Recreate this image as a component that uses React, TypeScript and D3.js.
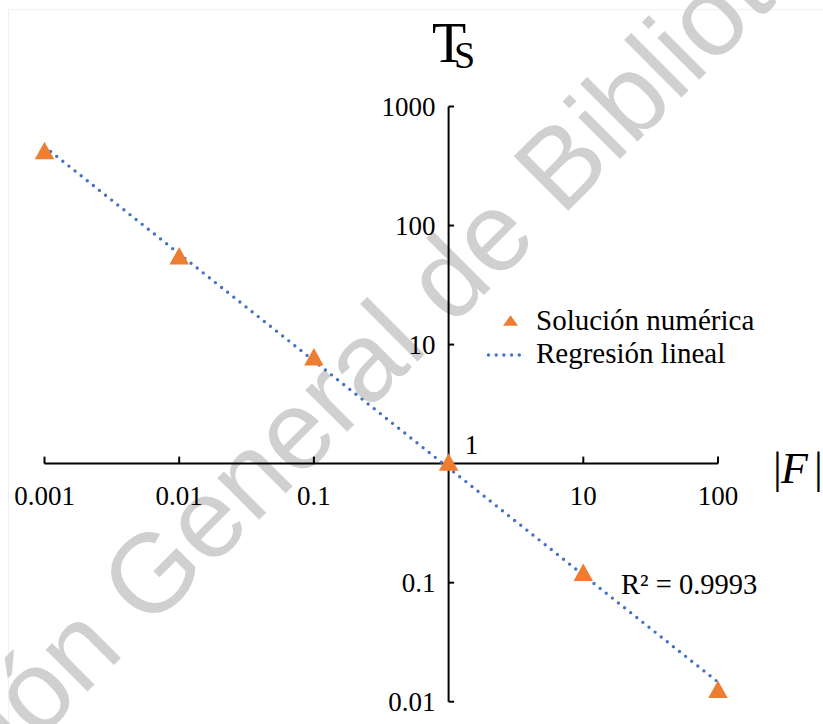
import React from "react";
import * as d3 from "d3";

// |F| values and the numerically solved Ts at each of them
const forceValues = [0.001, 0.01, 0.1, 1, 10, 100];
const tsValues = [427, 55.7, 7.91, 1.03, 0.1225, 0.01275];

const xTickValues = [0.001, 0.01, 0.1, 1, 10, 100];
const xTickLabels = ["0.001", "0.01", "0.1", "", "10", "100"];
const yTickValues = [1000, 100, 10, 1, 0.1, 0.01];
const yTickLabels = ["1000", "100", "10", "", "0.1", "0.01"];
const originLabel = "1";
const legendLabels = ["Solución numérica", "Regresión lineal"];
const r2Label = "R² = 0.9993";
const watermarkHead = "Dirección";
const watermarkTail = "General de Bibliotecas";

const W = 823;
const H = 724;
const ORANGE = "#ED7D31";
const BLUE = "#4472C4";
const SERIF = "'Liberation Serif', 'Times New Roman', serif";
const SANS = "'Liberation Sans', Arial, sans-serif";

function trianglePath(cx: number, cy: number, w: number, h: number) {
  const line = d3.line();
  return (
    line([
      [cx, cy - h / 2],
      [cx + w / 2, cy + h / 2],
      [cx - w / 2, cy + h / 2],
    ]) + "Z"
  );
}

export default function App() {
  const x = d3.scaleLog().domain([0.001, 100]).range([44.5, 718]);
  const y = d3.scaleLog().domain([0.01, 1000]).range([701.7, 106.5]);

  // least-squares power-law fit in log-log space
  const lx = forceValues.map(Math.log10);
  const ly = tsValues.map(Math.log10);
  const mx = d3.mean(lx) as number;
  const my = d3.mean(ly) as number;
  const sxy = d3.sum(lx, (v, i) => (v - mx) * (ly[i] - my));
  const sxx = d3.sum(lx, (v) => (v - mx) * (v - mx));
  const slope = sxy / sxx;
  const intercept = my - slope * mx;
  const fit = (f: number) => Math.pow(10, intercept + slope * Math.log10(f));
  const fitPoints: [number, number][] = d3
    .range(0, 101)
    .map((i) => {
      const f = Math.pow(10, -3 + (5 * i) / 100);
      return [x(f), y(fit(f))];
    });
  const fitPath = d3.line()(fitPoints) as string;

  const x0 = x(1);
  const y0 = y(1);

  return (
    <svg
      width={W}
      height={H}
      viewBox={`0 0 ${W} ${H}`}
      style={{ position: "absolute", left: 0, top: 0, background: "#fff" }}
    >
      <rect x={0} y={0} width={W} height={H} fill="#fff" />
      <path d={`M8.5,${H} V9.5 H${W}`} fill="none" stroke="#f1f1f1" strokeWidth={1} />

      {/* watermark */}
      <g transform="translate(148,631) rotate(-45)" fontFamily={SANS} fontSize={112} fill="#d0d0d0">
        <text x={-31} y={0} textAnchor="end">{watermarkHead}</text>
        <text x={0} y={0} textAnchor="start">{watermarkTail}</text>
      </g>

      {/* axes crossing at (1, 1) */}
      <g stroke="#000" strokeWidth={2} fill="none">
        <line x1={x(0.001)} x2={x(100)} y1={y0} y2={y0} />
        <line x1={x0} x2={x0} y1={y(1000)} y2={y(0.01)} />
        {xTickValues.map((v) => (
          <line key={"xt" + v} x1={x(v)} x2={x(v)} y1={y0} y2={y0 - 7} />
        ))}
        {yTickValues.map((v) => (
          <line key={"yt" + v} x1={x0} x2={x0 + 5.5} y1={y(v)} y2={y(v)} />
        ))}
      </g>

      <g fontFamily={SERIF} fontSize={27} fill="#000">
        {xTickValues.map((v, i) => (
          <text key={"xl" + v} x={x(v)} y={y0 + 41} textAnchor="middle">
            {xTickLabels[i]}
          </text>
        ))}
        {yTickValues.map((v, i) => (
          <text key={"yl" + v} x={x0 - 13} y={y(v) + 9} textAnchor="end">
            {yTickLabels[i]}
          </text>
        ))}
        <text x={x0 + 23} y={y0 - 10} textAnchor="middle">{originLabel}</text>
      </g>

      {/* axis titles */}
      <g fontFamily={SERIF} fill="#000">
        <text x={432} y={62} fontSize={56}>T</text>
        <text x={454} y={68} fontSize={38}>S</text>
        <text y={483} fontSize={44}>
          <tspan x={773}>|</tspan>
          <tspan x={781} fontStyle="italic">F</tspan>
          <tspan x={814}>|</tspan>
        </text>
      </g>

      {/* regression line */}
      <path
        d={fitPath}
        fill="none"
        stroke={BLUE}
        strokeWidth={3.4}
        strokeLinecap="round"
        strokeDasharray="0 7.8"
      />

      {/* numerical solution markers */}
      {forceValues.map((f, i) => (
        <path key={"m" + f} d={trianglePath(x(f), y(tsValues[i]), 19.5, 17.5)} fill={ORANGE} />
      ))}

      {/* legend */}
      <path d={trianglePath(510.5, 320.5, 15, 10.5)} fill={ORANGE} />
      <line
        x1={488.5}
        x2={527}
        y1={355}
        y2={355}
        stroke={BLUE}
        strokeWidth={3.4}
        strokeLinecap="round"
        strokeDasharray="0 7.7"
      />
      <g fontFamily={SERIF} fontSize={29} fill="#000">
        <text x={536} y={330}>{legendLabels[0]}</text>
        <text x={536} y={363}>{legendLabels[1]}</text>
        <text x={621} y={594} fontSize={28.5}>{r2Label}</text>
      </g>
    </svg>
  );
}
